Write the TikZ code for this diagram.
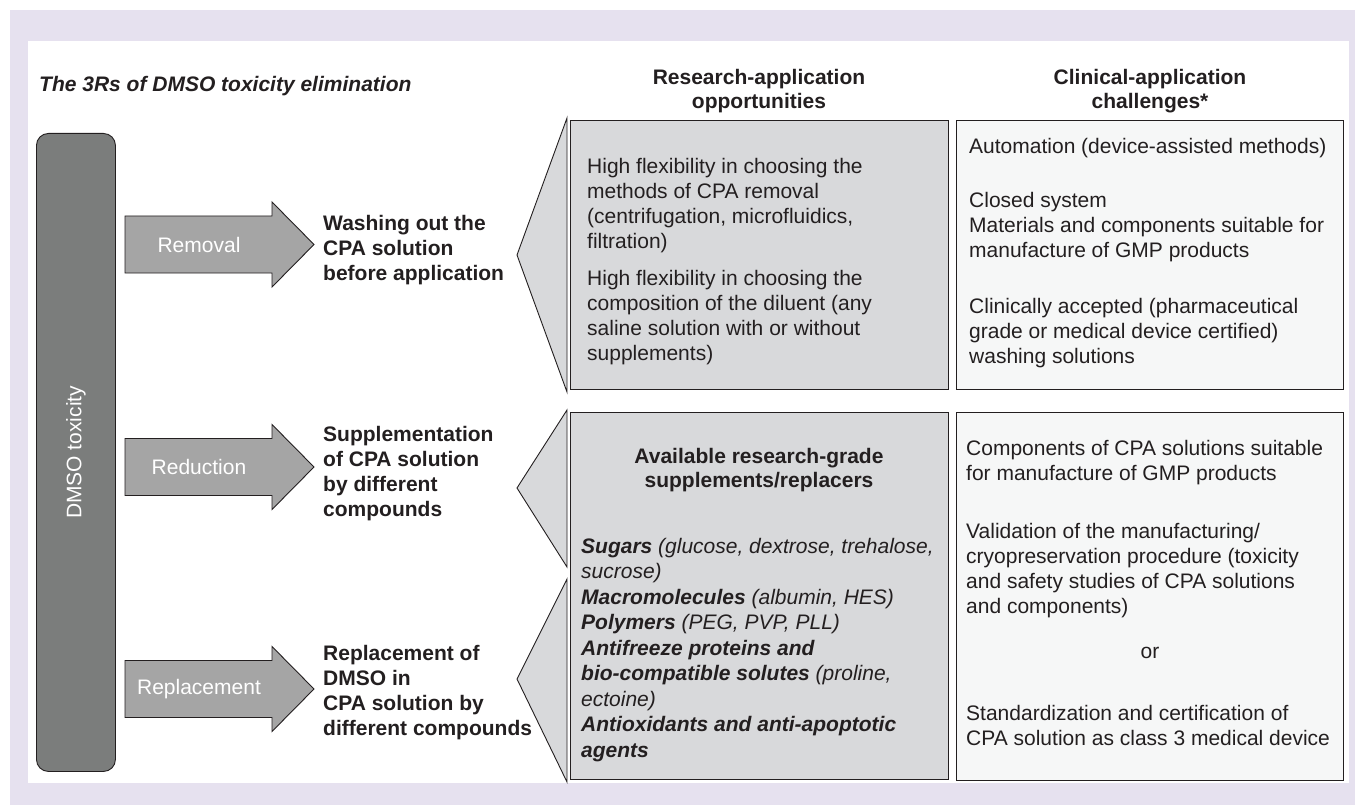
\documentclass[tikz,border=0pt]{standalone}
\usepackage{fontspec}
\setmainfont{Liberation Sans}
\usetikzlibrary{positioning}

\definecolor{lavbg}{RGB}{230,225,239}
\definecolor{ink}{RGB}{35,31,32}
\definecolor{barfill}{RGB}{123,125,124}
\definecolor{arrowfill}{RGB}{165,165,165}
\definecolor{resfill}{RGB}{216,217,219}
\definecolor{clifill}{RGB}{246,247,247}

\tikzset{
  every node/.style={inner sep=0pt, text=ink, font=\fontsize{21}{25}\selectfont},
  titletext/.style={font=\fontsize{21}{25}\selectfont\bfseries\itshape},
  headtext/.style={font=\fontsize{21}{24}\selectfont\bfseries, align=center, anchor=north},
  steptext/.style={font=\fontsize{21}{25}\selectfont\bfseries, align=left, anchor=north west},
  bodytext/.style={align=left, anchor=north west},
  armtext/.style={text=white},
  blockarrow/.style={draw=ink, line width=0.9pt, fill=arrowfill},
  calloutwedge/.style={draw=ink, line width=0.9pt, fill=resfill},
  dmsobar/.style={draw=ink, line width=0.9pt, fill=barfill, rounded corners=12pt},
  resbox/.style={draw=ink, line width=1pt, fill=resfill},
  clibox/.style={draw=ink, line width=1pt, fill=clifill}
}

\begin{document}
\begin{tikzpicture}[x=1pt,y=-1pt]
	\useasboundingbox (0,0) rectangle (1355,805);
	\fill[lavbg] (10,10) rectangle (1355,805);
	\fill[white] (28,41) rectangle (1349,783);

	% column heads
	\node[titletext, anchor=base west] (title) at (39,92) {The 3Rs of DMSO toxicity elimination};
	\node[headtext] (reshead) at (759,69) {Research-application\\opportunities};
	\node[headtext] (clihead) at (1150,69) {Clinical-application\\challenges*};

	% DMSO toxicity bar
	\node[dmsobar, minimum width=79pt, minimum height=638pt, anchor=north west] (dmso) at (36,133) {};
	\node[armtext, rotate=90] (dmsolbl) at (dmso.center) {DMSO toxicity};

	% the three Rs
	\draw[blockarrow] (125,216) -- (272,216) -- (272,202) -- (314,244.5) -- (272,287) -- (272,273) -- (125,273) -- cycle;
	\node[armtext] (removal) at (199,244.5) {Removal};
	\draw[blockarrow] (125,438.5) -- (272,438.5) -- (272,424.5) -- (314,467) -- (272,509.5) -- (272,495.5) -- (125,495.5) -- cycle;
	\node[armtext] (reduction) at (199,467) {Reduction};
	\draw[blockarrow] (125,660.5) -- (272,660.5) -- (272,646.5) -- (314,689) -- (272,731.5) -- (272,717.5) -- (125,717.5) -- cycle;
	\node[armtext] (replacement) at (199,689) {Replacement};

	\node[steptext] (wash) at (323,215) {Washing out the\\CPA solution\\before application};
	\node[steptext] (suppl) at (323,426) {Supplementation\\of CPA solution\\by different\\compounds};
	\node[steptext] (repl) at (323,645) {Replacement of\\DMSO in\\CPA solution by\\different compounds};

	% boxes
	\node[resbox, minimum width=378pt, minimum height=269pt, anchor=north west] (res1) at (570,120) {};
	\node[resbox, minimum width=378pt, minimum height=367pt, anchor=north west] (res2) at (570,412) {};
	\node[clibox, minimum width=387pt, minimum height=269pt, anchor=north west] (cli1) at (956,120) {};
	\node[clibox, minimum width=387pt, minimum height=368pt, anchor=north west] (cli2) at (956,412) {};

	\draw[calloutwedge] (567,118) -- (517,255) -- (567,392) -- cycle;
	\draw[calloutwedge] (567,410) -- (517,488) -- (567,567) -- cycle;
	\draw[calloutwedge] (567,579) -- (517,679) -- (567,782) -- cycle;

	% research column
	\node[bodytext] (res1txt) at (587,158) {High flexibility in choosing the\\methods of CPA removal\\(centrifugation, microfluidics,\\filtration)\\[12pt]High flexibility in choosing the\\composition of the diluent (any\\saline solution with or without\\supplements)};
	\node[headtext] (res2head) at (759,448) {Available research-grade\\supplements/replacers};
	\node[bodytext, font=\fontsize{21}{25.5}\selectfont\itshape] (res2txt) at (581,538) {\textbf{Sugars} (glucose, dextrose, trehalose,\\sucrose)\\\textbf{Macromolecules} (albumin, HES)\\\textbf{Polymers} (PEG, PVP, PLL)\\\textbf{Antifreeze proteins and}\\\textbf{bio-compatible solutes} (proline,\\ectoine)\\\textbf{Antioxidants and anti-apoptotic}\\\textbf{agents}};

	% clinical column
	\node[bodytext] (cli1txt) at (969,138) {Automation (device-assisted methods)\\[29pt]Closed system\\Materials and components suitable for\\manufacture of GMP products\\[31pt]Clinically accepted (pharmaceutical\\grade or medical device certified)\\washing solutions};
	\node[bodytext] (cli2txt) at (966,440) {Components of CPA solutions suitable\\for manufacture of GMP products\\[33pt]Validation of the manufacturing/\\cryopreservation procedure (toxicity\\and safety studies of CPA solutions\\and components)};
	\node[anchor=base] (ortxt) at (1150,658) {or};
	\node[bodytext] (cli2low) at (966,705) {Standardization and certification of\\CPA solution as class 3 medical device};
\end{tikzpicture}
\end{document}
